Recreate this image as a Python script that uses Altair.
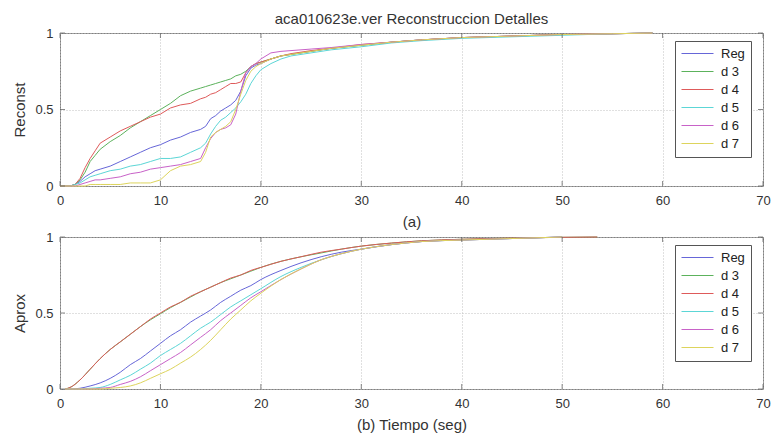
import altair as alt
import pandas as pd

SERIES = ["Reg", "d 3", "d 4", "d 5", "d 6", "d 7"]
COLORS = ["#6666d8", "#5cb25c", "#de5a5a", "#5cd6d6", "#c862c8", "#ddd45c"]
X_TICKS = [0, 10, 20, 30, 40, 50, 60, 70]
Y_TICKS = [0, 0.5, 1]

# ---- (a) Reconst ----
TOP_T = [0, 1, 1.5, 2, 2.5, 3, 3.5, 4, 5, 6, 7, 8, 9, 10, 11, 12, 13, 14,
         14.5, 15, 15.5, 16, 16.5, 17, 17.5, 18, 18.5, 19, 19.5, 20,
         21, 22, 23, 25, 27, 30, 33, 36, 40, 45, 50, 55, 59]
TOP_REG = [0, 0, 0.01, 0.03, 0.06, 0.08, 0.1, 0.11,
           0.13, 0.16, 0.19, 0.22, 0.25, 0.27, 0.3, 0.32, 0.35, 0.37,
           0.39, 0.44, 0.46, 0.49, 0.51, 0.53, 0.56, 0.62, 0.72, 0.77, 0.79, 0.8,
           0.83, 0.85, 0.86, 0.88, 0.9, 0.92, 0.94, 0.955, 0.97, 0.98, 0.99, 0.995, 1.0]
TOP_D3 = [0, 0, 0.01, 0.04, 0.09, 0.16, 0.2, 0.24,
          0.29, 0.33, 0.38, 0.42, 0.46, 0.5, 0.54, 0.59, 0.62, 0.64,
          0.65, 0.66, 0.67, 0.68, 0.69, 0.7, 0.72, 0.73, 0.75, 0.78, 0.8, 0.81,
          0.83, 0.85, 0.86, 0.88, 0.9, 0.92, 0.94, 0.955, 0.97, 0.98, 0.99, 0.995, 1.0]
TOP_D4 = [0, 0, 0.01, 0.05, 0.12, 0.18, 0.23, 0.28,
          0.32, 0.36, 0.39, 0.42, 0.45, 0.47, 0.51, 0.53, 0.54, 0.57,
          0.58, 0.6, 0.61, 0.63, 0.65, 0.67, 0.67, 0.68, 0.74, 0.78, 0.8, 0.81,
          0.83, 0.85, 0.865, 0.885, 0.9, 0.925, 0.94, 0.955, 0.97, 0.98, 0.99, 0.995, 1.0]
TOP_D5 = [0, 0, 0.01, 0.02, 0.04, 0.06, 0.07, 0.08,
          0.1, 0.11, 0.13, 0.14, 0.16, 0.18, 0.18, 0.19, 0.22, 0.25,
          0.28, 0.34, 0.39, 0.43, 0.45, 0.48, 0.51, 0.55, 0.6, 0.67, 0.72, 0.76,
          0.8, 0.83, 0.85, 0.87, 0.89, 0.91, 0.935, 0.95, 0.965, 0.975, 0.985, 0.995, 1.0]
TOP_D6 = [0, 0, 0, 0.01, 0.02, 0.03, 0.04, 0.04,
          0.05, 0.06, 0.08, 0.09, 0.11, 0.12, 0.13, 0.14, 0.16, 0.18,
          0.25, 0.31, 0.35, 0.37, 0.38, 0.4, 0.47, 0.62, 0.74, 0.78, 0.8, 0.83,
          0.87, 0.88, 0.885, 0.895, 0.905, 0.925, 0.94, 0.955, 0.97, 0.98, 0.99, 0.995, 1.0]
TOP_D7 = [0, 0, 0, 0, 0, 0.01, 0.01, 0.01,
          0.01, 0.01, 0.02, 0.02, 0.02, 0.04, 0.1, 0.13, 0.14, 0.16,
          0.22, 0.32, 0.35, 0.37, 0.39, 0.42, 0.5, 0.6, 0.69, 0.75, 0.78, 0.8,
          0.83, 0.85, 0.86, 0.88, 0.9, 0.92, 0.94, 0.955, 0.97, 0.98, 0.99, 0.995, 1.0]

# ---- (b) Aprox ----
BOT_T = [0.5, 1, 2, 3, 4, 5, 6, 7, 8, 9, 10,
         11, 12, 13, 14, 15, 16, 17, 18, 19, 20,
         22, 24, 26, 28, 30, 33, 36, 40, 45, 50]
BOT_T_LONG = BOT_T + [53.5]
BOT_REG = [0, 0, 0.005, 0.02, 0.04, 0.07, 0.11, 0.16, 0.2, 0.25, 0.3,
           0.35, 0.39, 0.44, 0.48, 0.52, 0.57, 0.61, 0.65, 0.68, 0.72,
           0.78, 0.83, 0.87, 0.9, 0.92, 0.95, 0.97, 0.98, 0.99, 1.0]
BOT_D3 = [0, 0.01, 0.06, 0.13, 0.2, 0.26, 0.31, 0.36, 0.41, 0.455, 0.495,
          0.535, 0.57, 0.605, 0.64, 0.67, 0.7, 0.725, 0.75, 0.775, 0.8,
          0.84, 0.87, 0.895, 0.92, 0.94, 0.96, 0.975, 0.985, 0.993, 0.998, 1.0]
BOT_D4 = [0, 0.01, 0.06, 0.13, 0.2, 0.26, 0.31, 0.36, 0.41, 0.46, 0.5,
          0.54, 0.57, 0.61, 0.64, 0.67, 0.7, 0.73, 0.75, 0.78, 0.8,
          0.84, 0.87, 0.9, 0.92, 0.94, 0.96, 0.975, 0.985, 0.993, 0.998, 1.0]
BOT_D5 = [0, 0, 0, 0.005, 0.01, 0.03, 0.06, 0.09, 0.13, 0.17, 0.22,
          0.26, 0.3, 0.35, 0.4, 0.44, 0.49, 0.54, 0.58, 0.62, 0.66,
          0.74, 0.8, 0.85, 0.89, 0.92, 0.95, 0.97, 0.98, 0.99, 1.0]
BOT_D6 = [0, 0, 0, 0, 0.005, 0.01, 0.03, 0.05, 0.08, 0.12, 0.16,
          0.2, 0.24, 0.29, 0.34, 0.39, 0.45, 0.5, 0.55, 0.6, 0.64,
          0.72, 0.79, 0.85, 0.89, 0.92, 0.95, 0.97, 0.98, 0.99, 1.0]
BOT_D7 = [0, 0, 0, 0, 0, 0.005, 0.01, 0.02, 0.04, 0.07, 0.1,
          0.13, 0.17, 0.21, 0.26, 0.32, 0.39, 0.46, 0.52, 0.58, 0.63,
          0.72, 0.79, 0.85, 0.89, 0.92, 0.95, 0.97, 0.98, 0.99, 1.0]


def long_df(pairs):
    rows = []
    for name, ts, vs in pairs:
        for t, v in zip(ts, vs):
            rows.append({"series": name, "t": t, "v": v})
    return pd.DataFrame(rows)


top_df = long_df([
    ("Reg", TOP_T, TOP_REG), ("d 3", TOP_T, TOP_D3), ("d 4", TOP_T, TOP_D4),
    ("d 5", TOP_T, TOP_D5), ("d 6", TOP_T, TOP_D6), ("d 7", TOP_T, TOP_D7),
])
bot_df = long_df([
    ("Reg", BOT_T, BOT_REG), ("d 3", BOT_T_LONG, BOT_D3), ("d 4", BOT_T_LONG, BOT_D4),
    ("d 5", BOT_T, BOT_D5), ("d 6", BOT_T, BOT_D6), ("d 7", BOT_T, BOT_D7),
])
xt_df = pd.DataFrame({"t": X_TICKS})
yt_df = pd.DataFrame({"v": Y_TICKS})

FONT = "Liberation Sans"
TXT = "#333333"
W = 703


def panel(df, ytitle, xtitle, h, interp, title=None):
    xenc = alt.X("t:Q", scale=alt.Scale(domain=[0, 70], nice=False, zero=False),
                 axis=alt.Axis(values=X_TICKS, title=xtitle, format="~g",
                               labelFlush=False))
    yenc = alt.Y("v:Q", scale=alt.Scale(domain=[0, 1], nice=False),
                 axis=alt.Axis(values=Y_TICKS, title=ytitle, format="~g"))
    lines = alt.Chart(df).mark_line(strokeWidth=1, interpolate=interp).encode(
        x=xenc, y=yenc,
        color=alt.Color("series:N", sort=SERIES,
                        scale=alt.Scale(domain=SERIES, range=COLORS),
                        legend=alt.Legend(
                            orient="none", legendX=615, legendY=8, title=None,
                            symbolType="stroke", symbolSize=1024, clipHeight=13,
                            symbolStrokeWidth=1, labelFont=FONT, labelFontSize=13,
                            labelColor="#222222", labelOffset=7,
                            labelExpr="datum.label + '\u00a0\u00a0\u00a0\u00a0\u00a0'",
                            strokeColor="#555555", fillColor="white",
                            padding=6, rowPadding=4)),
    )
    tb = alt.Chart(xt_df).mark_tick(orient="vertical", size=5, thickness=1,
                                    color="#555555", yOffset=-2.5).encode(
        x=xenc, y=alt.datum(0))
    tt = alt.Chart(xt_df).mark_tick(orient="vertical", size=5, thickness=1,
                                    color="#555555", yOffset=2.5).encode(
        x=xenc, y=alt.datum(1))
    tl = alt.Chart(yt_df).mark_tick(orient="horizontal", size=5, thickness=1,
                                    color="#555555", xOffset=2.5).encode(
        y=yenc, x=alt.datum(0))
    tr = alt.Chart(yt_df).mark_tick(orient="horizontal", size=5, thickness=1,
                                    color="#555555", xOffset=-2.5).encode(
        y=yenc, x=alt.datum(70))
    ch = alt.layer(lines, tb, tt, tl, tr).properties(width=W, height=h)
    if title:
        ch = ch.properties(title=alt.TitleParams(
            title, font=FONT, fontSize=15, fontWeight="normal", color=TXT, offset=0))
    return ch


top = panel(top_df, "Reconst", "(a)", 153, "linear",
            title="aca010623e.ver Reconstruccion Detalles")
bot = panel(bot_df, "Aprox", "(b) Tiempo (seg)", 152, "monotone")

chart = alt.vconcat(top, bot, spacing=0).resolve_legend(color="independent").configure(
    padding={"left": 12, "top": 11, "right": 2, "bottom": 0},
    background="white",
).configure_view(
    stroke="#808080", strokeWidth=1
).configure_axis(
    domain=False, ticks=False, grid=True, gridColor="#c0c0c0", gridDash=[1, 2],
    gridWidth=1, labelFont=FONT, labelFontSize=13, labelColor=TXT,
    titleFont=FONT, titleFontSize=15, titleFontWeight="normal", titleColor=TXT,
).configure_axisX(
    labelPadding=8, titlePadding=7
).configure_axisY(
    labelPadding=7, titlePadding=7
)

chart.save("out.html", embed_options={"renderer": "svg", "actions": False})
